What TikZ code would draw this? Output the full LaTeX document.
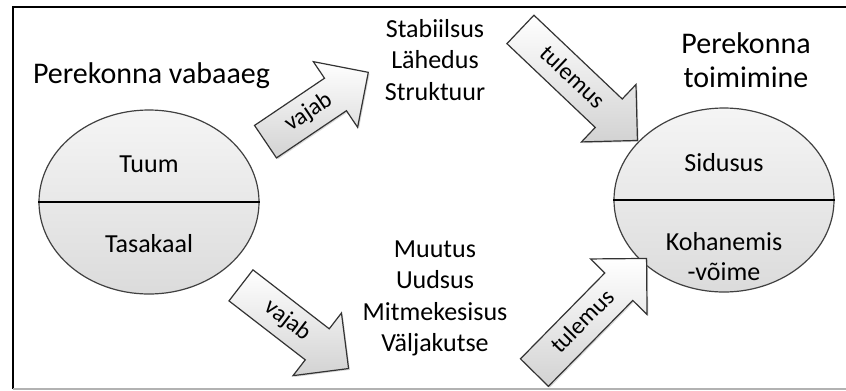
\documentclass[tikz,border=0pt]{standalone}
\usepackage{fontspec}
\setmainfont{Carlito}
\usetikzlibrary{calc,shapes.geometric,shapes.arrows,shadows}

\begin{document}
\begin{tikzpicture}[x=0.75pt,y=-0.75pt,
    every node/.style={inner sep=0pt},
    halves/.style={ellipse,draw=black!75,line width=0.9pt,top color=gray!8,bottom color=gray!28,
      minimum width=165pt,minimum height=138pt},
    blockarrow/.style={single arrow,draw=black!80,line width=0.9pt,top color=white,bottom color=gray!35,
      single arrow head extend=15pt,inner xsep=4pt,inner ysep=5.75pt,text height=13pt,text depth=4pt,
      anchor=tail,font=\fontsize{18}{20}\selectfont,
      drop shadow={opacity=0.3,shadow xshift=1pt,shadow yshift=-1pt}},
    lbl/.style={anchor=base,font=\fontsize{19.5}{23.6}\selectfont},
    title/.style={anchor=base,font=\fontsize{22.5}{26}\selectfont}]

    \useasboundingbox (0,0) rectangle (846,390);
    \draw[line width=2.2pt] (13,389) -- (13,7) -- (846,7); % frame
    \draw[gray!60,line width=1.5pt] (13,389) -- (846,389);

    \node[halves] (vaba) at (149,202) {};
    \draw[line width=2.2pt] (vaba.west) -- (vaba.east);
    \node[halves] (toim) at (724,200) {};
    \draw[line width=2.2pt] (toim.west) -- (toim.east);

    \node[lbl] (tuum) at ($(vaba.center)+(0,-30)$) {Tuum};
    \node[lbl] (tasakaal) at ($(vaba.center)+(0,50)$) {Tasakaal};
    \node[lbl] (sidusus) at ($(toim.center)+(0,-29)$) {Sidusus};
    \node[lbl] (kohanemis) at ($(toim.center)+(0,50)$) {Kohanemis};
    \node[lbl] (voime) at ($(toim.center)+(0,80)$) {-võime};

    \node[title] (vabaaeg) at (151.5,83) {Perekonna vabaaeg};
    \node[title] (pere) at (746,53) {Perekonna};
    \node[title] (toimimine) at (746,87) {toimimine};

    \foreach \w [count=\i] in {Stabiilsus,Lähedus,Struktuur}
      \node[lbl] (ule\i) at (435,{5.5+31.5*\i}) {\w};
    \foreach \w [count=\i] in {Muutus,Uudsus,Mitmekesisus,Väljakutse}
      \node[lbl] (ala\i) at (435,{225.5+31.5*\i}) {\w};

    \node[blockarrow,rotate=34,minimum height=93pt] (vajab1) at (265,142) {vajab};
    \node[blockarrow,rotate=-37.7,minimum height=102pt] (vajab2) at (240.5,285) {vajab};
    \node[blockarrow,rotate=-43.5,minimum height=121pt] (tulemus1) at (520,29) {tulemus};
    \node[blockarrow,rotate=45.5,minimum height=120pt] (tulemus2) at (534,373) {tulemus};
\end{tikzpicture}
\end{document}
